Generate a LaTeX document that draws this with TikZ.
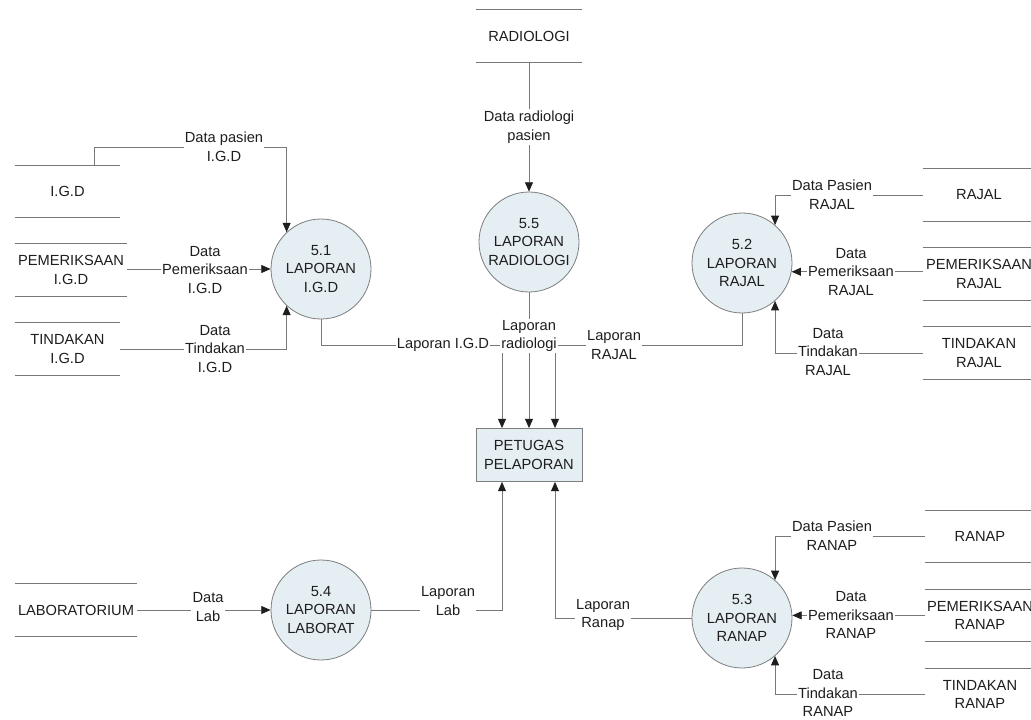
\documentclass[tikz,border=0pt]{standalone}
\usepackage{fontspec}
\setmainfont{Liberation Sans}
\usetikzlibrary{arrows.meta,calc}
\definecolor{procfill}{RGB}{229,238,243}
\definecolor{edgegray}{RGB}{125,125,125}
\definecolor{linegray}{RGB}{120,120,120}
\definecolor{inkcol}{RGB}{30,30,30}

\begin{document}
\begin{tikzpicture}[x=0.75pt,y=-0.75pt,
  every node/.style={font=\fontsize{11}{14}\selectfont, text=inkcol},
  process/.style={circle, draw=edgegray, fill=procfill, line width=0.6pt,
    minimum size=75pt, inner sep=0pt, align=center},
  agent/.style={rectangle, draw=edgegray, fill=procfill, line width=0.6pt,
    minimum width=79.5pt, minimum height=39.75pt, inner sep=0pt, align=center},
  store/.style={minimum height=39pt, inner sep=0pt, align=center},
  storeline/.style={draw=linegray, line width=0.6pt},
  flow/.style={draw=linegray, line width=0.6pt,
    -{Triangle[length=7pt,width=6pt,color=inkcol]}},
  lbl/.style={fill=white, inner sep=1pt, align=center}]

% canvas
\fill[white] (0,0) rectangle (1031,720);
\useasboundingbox (0,0) rectangle (1031,720);

% processes
\node[process] (p51) at (321,269) {5.1\\LAPORAN\\I.G.D};
\node[process] (p55) at (529,242) {5.5\\LAPORAN\\RADIOLOGI};
\node[process] (p52) at (742,263) {5.2\\LAPORAN\\RAJAL};
\node[process] (p54) at (321,610) {5.4\\LAPORAN\\LABORAT};
\node[process] (p53) at (742,618) {5.3\\LAPORAN\\RANAP};

% external entity
\node[agent] (box) at (529,455) {PETUGAS\\PELAPORAN};

% data stores
\node[store, minimum width=78.75pt] (rad)    at (529,36)    {RADIOLOGI};
\node[store, minimum width=78.75pt] (igd)    at (67.5,191.5) {I.G.D};
\node[store, minimum width=84pt]    (pigd)   at (71,270)    {PEMERIKSAAN\\I.G.D};
\node[store, minimum width=78.75pt] (tigd)   at (67.5,349)  {TINDAKAN\\I.G.D};
\node[store, minimum width=91.5pt]  (lab)    at (76,610)    {LABORATORIUM};
\node[store, minimum width=84pt]    (rajal)  at (979,195)   {RAJAL};
\node[store, minimum width=84pt]    (prajal) at (979,274)   {PEMERIKSAAN\\RAJAL};
\node[store, minimum width=84pt]    (trajal) at (979,353)   {TINDAKAN\\RAJAL};
\node[store, minimum width=82.5pt]  (ranap)  at (980,536.5) {RANAP};
\node[store, minimum width=82.5pt]  (pranap) at (980,615.5) {PEMERIKSAAN\\RANAP};
\node[store, minimum width=82.5pt]  (tranap) at (980,694.5) {TINDAKAN\\RANAP};

\foreach \s in {rad,igd,pigd,tigd,lab,rajal,prajal,trajal,ranap,pranap,tranap}
  \draw[storeline] (\s.north west) -- (\s.north east)
                   (\s.south west) -- (\s.south east);

% helper points
\coordinate (kIGD) at (p51.133 |- 0,147);
\coordinate (inL)  at ($(box.north)+(-27,0)$);
\coordinate (inR)  at ($(box.north)+(26,0)$);
\coordinate (outL) at ($(box.south)+(-27,0)$);
\coordinate (outR) at ($(box.south)+(26,0)$);
\coordinate (bus)  at (0,345);

% inputs of 5.1
\draw[flow] ($(igd.north)+(27,0)$) |- (kIGD) -- (p51.133);
\draw[flow] (pigd.east |- p51.west) -- (p51.west);
\draw[flow] (tigd.east) -| (p51.-133);

% input of 5.5
\draw[flow] (rad.south) -- (p55.north);

% inputs of 5.2
\draw[flow] (rajal.west) -| (p52.49);
\draw[flow] (prajal.west |- p52.-10) -- (p52.-10);
\draw[flow] (trajal.west) -| (p52.-49);

% inputs of 5.3
\draw[flow] (ranap.west) -| (p53.49);
\draw[flow] (pranap.west |- p53.3) -- (p53.3);
\draw[flow] (tranap.west) -| (p53.-49);

% input of 5.4
\draw[flow] (lab.east |- p54.west) -- (p54.west);

% reports to the officer
\draw[flow] (p51.south) |- (bus -| inL) -- (inL);
\draw[flow] (p55.south) -- (box.north);
\draw[flow] (p52.south) |- (bus -| inR) -- (inR);
\draw[flow] (p54.east) -| (outL);
\draw[flow] (p53.west) -| (outR);

% flow labels
\node[lbl] at (224,147) {Data pasien\\I.G.D};
\node[lbl] at (205,270) {Data\\Pemeriksaan\\I.G.D};
\node[lbl] at (215,349) {Data\\Tindakan\\I.G.D};
\node[lbl] at (529,127) {Data radiologi\\pasien};
\node[lbl] at (443,345) {Laporan I.G.D};
\node[lbl] at (529,336) {Laporan\\radiologi};
\node[lbl] at (614,345) {Laporan\\RAJAL};
\node[lbl] at (832,195) {Data Pasien\\RAJAL};
\node[lbl] at (851,272) {Data\\Pemeriksaan\\RAJAL};
\node[lbl] at (828,352) {Data\\Tindakan\\RAJAL};
\node[lbl] at (208,607) {Data\\Lab};
\node[lbl] at (448,601) {Laporan\\Lab};
\node[lbl] at (603,615) {Laporan\\Ranap};
\node[lbl] at (832,536) {Data Pasien\\RANAP};
\node[lbl] at (851,615) {Data\\Pemeriksaan\\RANAP};
\node[lbl] at (828,693) {Data\\Tindakan\\RANAP};
\end{tikzpicture}
\end{document}
